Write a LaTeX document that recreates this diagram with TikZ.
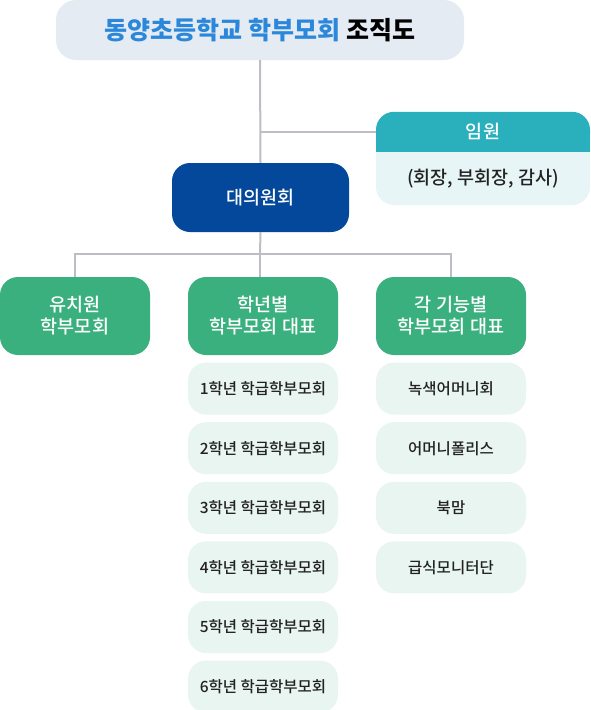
\documentclass[tikz,border=0pt]{standalone}
\usepackage{fontspec}
\usepackage{tikz}
\usetikzlibrary{positioning}
\newfontfamily\kr{Noto Sans CJK KR Medium}
\newfontfamily\krblack{Noto Sans CJK KR Black}
\definecolor{titlebg}{HTML}{E5EBF3}
\definecolor{titleblue}{HTML}{2B87DA}
\definecolor{navy}{HTML}{03489A}
\definecolor{imteal}{HTML}{2AAFBC}
\definecolor{imbg}{HTML}{E7F5F7}
\definecolor{grpgreen}{HTML}{3AB07F}
\definecolor{subbg}{HTML}{E9F5F1}
\definecolor{linegrey}{HTML}{BCBEC3}
\definecolor{subtext}{HTML}{222222}

\begin{document}
\begin{tikzpicture}
	[x=1pt, y=-1pt, font=\kr, node distance=7.2pt,
	 box/.style={rounded corners=18pt, minimum width=150pt, align=center, inner sep=0pt},
	 grp/.style={box, fill=grpgreen, text=white, minimum height=78pt, font=\kr\fontsize{18.5}{22}\selectfont},
	 sub/.style={box, fill=subbg, text=subtext, minimum height=52pt, font=\kr\fontsize{15.5}{18}\selectfont},
	 link/.style={draw=linegrey, line width=2pt}]
   \useasboundingbox (0,0) rectangle (590,710);
   \node[box, fill=titlebg, minimum width=408pt, minimum height=60pt, rounded corners=20pt,
         font=\krblack\fontsize{25}{30}\selectfont, text=black] (title) at (260,30)
         {\textcolor{titleblue}{동양초등학교 학부모회} 조직도};
   \node[box, fill=navy, text=white, minimum width=177pt, minimum height=69pt,
         font=\kr\fontsize{18.5}{22}\selectfont] (daeui) at (260.5,197.5) {대의원회};
   \node[box, fill=imbg, minimum width=214pt, minimum height=93pt] (imbody) at (483,158.5) {};
   \fill[imteal] ([yshift=-20pt]imbody.north west) rectangle ([yshift=-40pt]imbody.north east);
   \node[box, fill=imteal, text=white, minimum width=214pt, minimum height=40pt,
         font=\kr\fontsize{18.5}{22}\selectfont] (imhead) at ([yshift=-20pt]imbody.north) {임원};
   \node[box, text=subtext, minimum height=53pt, font=\kr\fontsize{18.5}{22}\selectfont,
         below=0pt of imhead] (imtext) {(회장, 부회장, 감사)};

   \node[grp] (yuchi) at (75,316) {유치원\\학부모회};
   \node[grp] (hak)   at (263,316) {학년별\\학부모회 대표};
   \node[grp] (gak)   at (451,316) {각 기능별\\학부모회 대표};

   \node[sub, below=of hak] (h1) {1학년 학급학부모회};
   \node[sub, below=of h1]  (h2) {2학년 학급학부모회};
   \node[sub, below=of h2]  (h3) {3학년 학급학부모회};
   \node[sub, below=of h3]  (h4) {4학년 학급학부모회};
   \node[sub, below=of h4]  (h5) {5학년 학급학부모회};
   \node[sub, below=of h5]  (h6) {6학년 학급학부모회};

   \node[sub, below=of gak] (g1) {녹색어머니회};
   \node[sub, below=of g1]  (g2) {어머니폴리스};
   \node[sub, below=of g2]  (g3) {북맘};
   \node[sub, below=of g3]  (g4) {급식모니터단};

   \coordinate (bus) at (260,254);
   \draw[link] (title.south) -- (daeui.north);
   \draw[link] (imhead.west) -- (imhead.west -| title.south);
   \draw[link] (daeui.south) -- (bus);
   \draw[link] (yuchi.north) -- (yuchi.north |- bus) -- (gak.north |- bus) -- (gak.north);
   \draw[link] (bus) -- (bus |- hak.north);
\end{tikzpicture}
\end{document}
